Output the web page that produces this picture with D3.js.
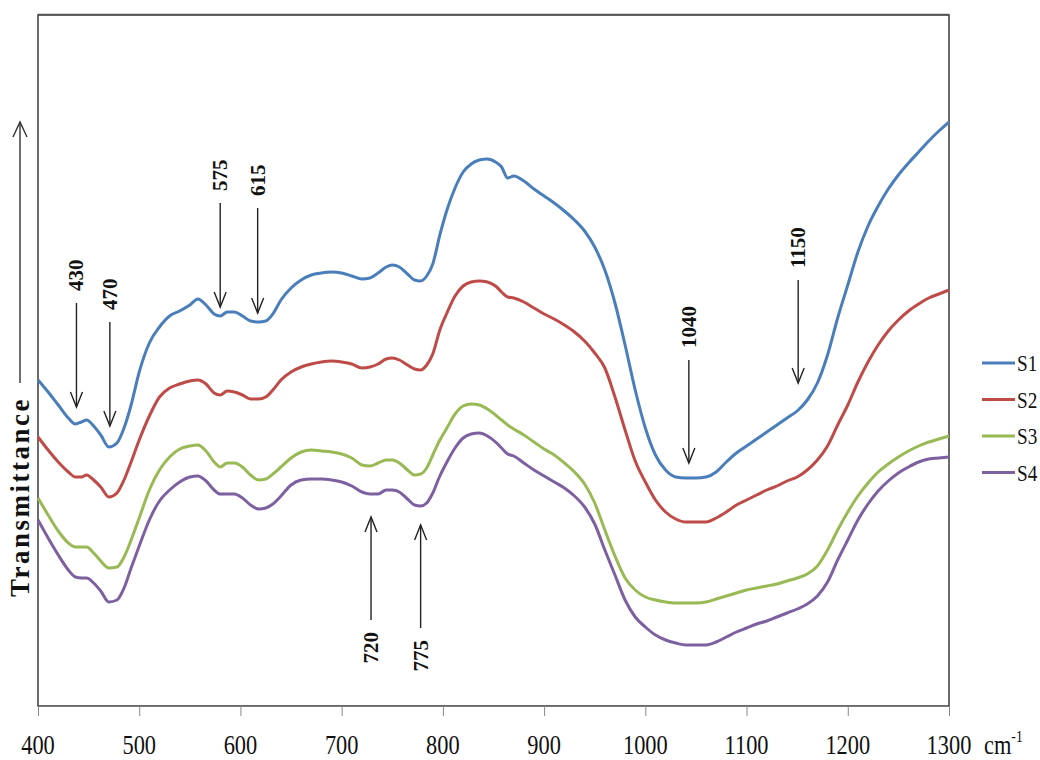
<!DOCTYPE html>
<html>
<head>
<meta charset="utf-8">
<script src="https://cdn.jsdelivr.net/npm/d3@7"></script>
<style>
  html, body { margin: 0; padding: 0; background: #fff; }
  svg { display: block; }
</style>
</head>
<body>
<svg id="chart" width="1040" height="760"></svg>
<script>
// Wavenumbers (cm-1) shared by all four spectra
const wavenumbers = [400, 410, 420, 430, 437, 443, 448, 455, 462, 470, 478, 485, 492, 500, 510, 520, 530, 540, 550, 558, 566, 574, 580, 587, 594, 602, 610, 618, 625, 632, 640, 650, 660, 670, 680, 690, 700, 710, 720, 728, 736, 744, 750, 757, 765, 772, 778, 784, 790, 797, 804, 812, 820, 828, 836, 844, 852, 858, 864, 870, 880, 890, 900, 910, 920, 930, 940, 950, 960, 970, 980, 990, 1000, 1010, 1020, 1030, 1040, 1050, 1060, 1070, 1080, 1090, 1100, 1110, 1120, 1130, 1140, 1150, 1160, 1170, 1180, 1190, 1200, 1210, 1220, 1230, 1240, 1250, 1260, 1270, 1280, 1290, 1300];

// Transmittance (arbitrary units, spectra offset vertically)
const s1 = [32.6, 31.4, 30.1, 28.8, 28.2, 28.4, 28.6, 28.0, 27.1, 25.9, 26.3, 27.8, 30.1, 33.4, 36.3, 37.9, 39.0, 39.5, 40.1, 40.7, 40.1, 39.2, 39.0, 39.4, 39.4, 39.0, 38.5, 38.4, 38.5, 39.2, 40.6, 41.8, 42.6, 43.1, 43.3, 43.4, 43.3, 43.0, 42.7, 42.8, 43.3, 43.9, 44.1, 43.9, 43.2, 42.6, 42.5, 43.0, 44.2, 47.1, 49.6, 51.8, 53.4, 54.2, 54.6, 54.7, 54.4, 53.9, 52.8, 53.0, 52.5, 51.7, 51.0, 50.3, 49.5, 48.6, 47.5, 45.9, 43.6, 40.3, 36.1, 31.6, 27.8, 25.1, 23.6, 22.9, 22.8, 22.8, 22.9, 23.4, 24.4, 25.3, 26.0, 26.7, 27.4, 28.1, 28.8, 29.5, 30.6, 32.3, 35.1, 38.8, 42.1, 45.4, 48.0, 50.0, 51.7, 53.1, 54.3, 55.4, 56.5, 57.5, 58.4];
const s2 = [26.9, 25.6, 24.4, 23.4, 22.9, 22.9, 23.1, 22.6, 21.9, 20.9, 21.3, 22.6, 24.4, 26.6, 29.0, 30.9, 31.8, 32.2, 32.5, 32.6, 32.2, 31.3, 31.1, 31.5, 31.4, 31.1, 30.7, 30.7, 30.9, 31.6, 32.6, 33.4, 33.9, 34.2, 34.4, 34.5, 34.4, 34.2, 33.8, 33.9, 34.2, 34.7, 34.8, 34.6, 34.1, 33.7, 33.6, 34.1, 35.2, 37.6, 39.3, 41.0, 42.0, 42.4, 42.5, 42.4, 42.0, 41.4, 40.9, 40.8, 40.4, 39.8, 39.2, 38.7, 38.1, 37.4, 36.5, 35.3, 33.8, 30.9, 27.6, 24.5, 22.4, 20.6, 19.4, 18.7, 18.4, 18.4, 18.4, 18.8, 19.4, 20.1, 20.6, 21.1, 21.6, 22.0, 22.5, 22.9, 23.6, 24.6, 26.0, 28.1, 30.1, 32.4, 34.4, 36.1, 37.5, 38.6, 39.5, 40.2, 40.8, 41.2, 41.6];
const s3 = [20.8, 19.1, 17.5, 16.3, 15.9, 15.9, 15.9, 15.3, 14.5, 13.8, 13.9, 14.9, 16.6, 18.8, 21.6, 23.6, 24.9, 25.7, 26.0, 26.1, 25.5, 24.4, 23.9, 24.3, 24.3, 23.9, 23.1, 22.6, 22.7, 23.2, 23.9, 24.8, 25.4, 25.6, 25.5, 25.4, 25.2, 24.8, 24.1, 24.0, 24.3, 24.6, 24.6, 24.3, 23.6, 23.1, 23.2, 23.8, 25.1, 26.6, 27.8, 29.2, 30.0, 30.2, 30.1, 29.7, 29.1, 28.6, 28.1, 27.7, 27.1, 26.4, 25.7, 25.1, 24.3, 23.4, 22.2, 20.3, 17.6, 15.0, 12.8, 11.6, 10.9, 10.6, 10.4, 10.3, 10.3, 10.3, 10.4, 10.7, 11.0, 11.3, 11.6, 11.8, 12.0, 12.2, 12.5, 12.8, 13.2, 14.0, 15.6, 17.6, 19.4, 21.0, 22.3, 23.4, 24.2, 24.9, 25.5, 26.0, 26.4, 26.7, 27.0];
const s4 = [18.6, 16.8, 15.1, 13.6, 12.9, 12.8, 12.8, 12.3, 11.5, 10.4, 10.6, 11.8, 13.8, 16.0, 18.6, 20.5, 21.6, 22.4, 22.9, 23.0, 22.5, 21.6, 21.2, 21.2, 21.2, 20.8, 20.1, 19.7, 19.8, 20.2, 21.0, 22.1, 22.6, 22.7, 22.7, 22.6, 22.4, 22.0, 21.4, 21.2, 21.2, 21.6, 21.6, 21.4, 20.7, 20.1, 20.0, 20.3, 21.3, 23.0, 24.4, 25.8, 26.8, 27.2, 27.3, 27.0, 26.4, 25.8, 25.2, 25.0, 24.3, 23.6, 23.0, 22.4, 21.8, 21.0, 19.9, 18.2, 15.6, 13.1, 10.6, 8.9, 7.9, 7.1, 6.6, 6.3, 6.1, 6.1, 6.1, 6.4, 6.9, 7.4, 7.8, 8.2, 8.5, 8.9, 9.3, 9.7, 10.2, 11.0, 12.4, 14.6, 16.6, 18.6, 20.2, 21.5, 22.5, 23.3, 23.9, 24.4, 24.7, 24.8, 24.9];

const seriesNames = ["S1", "S2", "S3", "S4"];
const seriesColors = ["#4a7ebb", "#be4b48", "#98b954", "#7d60a0"];
const xTicks = [400, 500, 600, 700, 800, 900, 1000, 1100, 1200, 1300];

// Band assignments marked with arrows: label, position (cm-1), arrow tail and head (transmittance)
const bandLabels = ["430", "470", "575", "615", "1040", "1150", "720", "775"];
const bandAt     = [438, 471, 580, 617, 1043, 1151, 729, 778];
const bandTail   = [40.3, 38.4, 50.3, 49.8, 34.6, 42.6, 8.6, 7.8];
const bandHead   = [29.9, 28.0, 39.9, 39.3, 24.3, 32.3, 18.9, 18.1];

const svg = d3.select("#chart");
const margin = { left: 38, right: 91, top: 15, bottom: 54 };
const W = 1040, H = 760;
const plotW = W - margin.left - margin.right;
const plotH = H - margin.top - margin.bottom;

const x = d3.scaleLinear().domain([400, 1300]).range([margin.left, margin.left + plotW]);
const y = d3.scaleLinear().domain([0, 69.1]).range([margin.top + plotH, margin.top]);

const serif = "'Liberation Serif', 'Times New Roman', serif";

// Plot frame
svg.append("rect")
  .attr("x", margin.left).attr("y", margin.top)
  .attr("width", plotW).attr("height", plotH)
  .attr("fill", "none").attr("stroke", "#3a3a3a").attr("stroke-width", 1.5);
svg.append("line")
  .attr("x1", margin.left).attr("x2", margin.left + plotW)
  .attr("y1", margin.top - 0.5).attr("y2", margin.top - 0.5)
  .attr("stroke", "#555").attr("stroke-width", 1.5);

// Bottom axis: tick marks below the frame, labels drawn separately
const xAxis = d3.axisBottom(x).tickValues(xTicks).tickSize(10).tickFormat("");
const axG = svg.append("g")
  .attr("transform", `translate(0,${margin.top + plotH})`)
  .call(xAxis);
axG.select(".domain").attr("stroke", "#777").attr("stroke-width", 1);
axG.selectAll(".tick line").attr("stroke", "#888").attr("stroke-width", 1);

svg.append("g").selectAll("text")
  .data(xTicks)
  .join("text")
  .attr("transform", d => `translate(${x(d)},754) scale(0.8,1)`)
  .attr("text-anchor", "middle")
  .attr("font-family", serif)
  .attr("font-size", 28)
  .attr("fill", "#111")
  .text(d => d);

// Unit label
const unit = svg.append("text")
  .attr("transform", "translate(984,754) scale(0.8,1)")
  .attr("font-family", serif)
  .attr("font-size", 28)
  .attr("fill", "#111");
unit.append("tspan").text("cm");
unit.append("tspan").attr("font-size", 17).attr("dy", -12).text("-1");

// Spectra
const series = [s1, s2, s3, s4];
const line = d3.line()
  .x(d => x(d[0]))
  .y(d => y(d[1]))
  .curve(d3.curveMonotoneX);

svg.append("g").selectAll("path")
  .data(series)
  .join("path")
  .attr("d", vals => line(wavenumbers.map((w, i) => [w, vals[i]])))
  .attr("fill", "none")
  .attr("stroke", (d, i) => seriesColors[i])
  .attr("stroke-width", 3)
  .attr("stroke-linejoin", "round");

// Band arrows with rotated labels
const arrowColor = "#222";
const bands = bandLabels.map((label, i) => ({
  label, at: bandAt[i], tail: bandTail[i], head: bandHead[i]
}));
const bg = svg.append("g");
bands.forEach(b => {
  const xp = x(b.at);
  const yt = y(b.tail), yh = y(b.head);
  const dir = yh > yt ? 1 : -1;   // 1 = arrow points down
  bg.append("line")
    .attr("x1", xp).attr("y1", yt).attr("x2", xp).attr("y2", yh)
    .attr("stroke", arrowColor).attr("stroke-width", 1.4);
  bg.append("path")
    .attr("d", `M${xp - 6},${yh - dir * 15} L${xp},${yh} L${xp + 6},${yh - dir * 15}`)
    .attr("fill", "none").attr("stroke", arrowColor).attr("stroke-width", 1.4);
  const ly = dir === 1 ? yt - 12 : yt + 12;
  bg.append("text")
    .attr("transform", `translate(${xp},${ly}) rotate(-90)`)
    .attr("text-anchor", dir === 1 ? "start" : "end")
    .attr("dominant-baseline", "central")
    .attr("font-family", serif)
    .attr("font-weight", "bold")
    .attr("font-size", 21)
    .attr("fill", "#111")
    .text(b.label);
});

// Y-axis label with upward arrow
svg.append("text")
  .attr("transform", "translate(20,497) rotate(-90)")
  .attr("text-anchor", "middle")
  .attr("dominant-baseline", "central")
  .attr("font-family", serif)
  .attr("font-weight", "bold")
  .attr("font-size", 27)
  .attr("letter-spacing", 2.5)
  .attr("fill", "#111")
  .text("Transmittance");
svg.append("line")
  .attr("x1", 20).attr("y1", 383).attr("x2", 20).attr("y2", 123)
  .attr("stroke", "#333").attr("stroke-width", 1.4);
svg.append("path")
  .attr("d", "M13,137 L20,122 L27,137")
  .attr("fill", "none").attr("stroke", "#333").attr("stroke-width", 1.4);

// Legend
const lg = svg.append("g");
seriesNames.forEach((name, i) => {
  const ly = 363 + i * 36.5;
  lg.append("line")
    .attr("x1", 982).attr("x2", 1015).attr("y1", ly).attr("y2", ly)
    .attr("stroke", seriesColors[i]).attr("stroke-width", 3);
  lg.append("text")
    .attr("transform", `translate(1017,${ly + 8}) scale(0.8,1)`)
    .attr("font-family", serif)
    .attr("font-size", 24)
    .attr("fill", "#111")
    .text(name);
});
</script>
</body>
</html>
